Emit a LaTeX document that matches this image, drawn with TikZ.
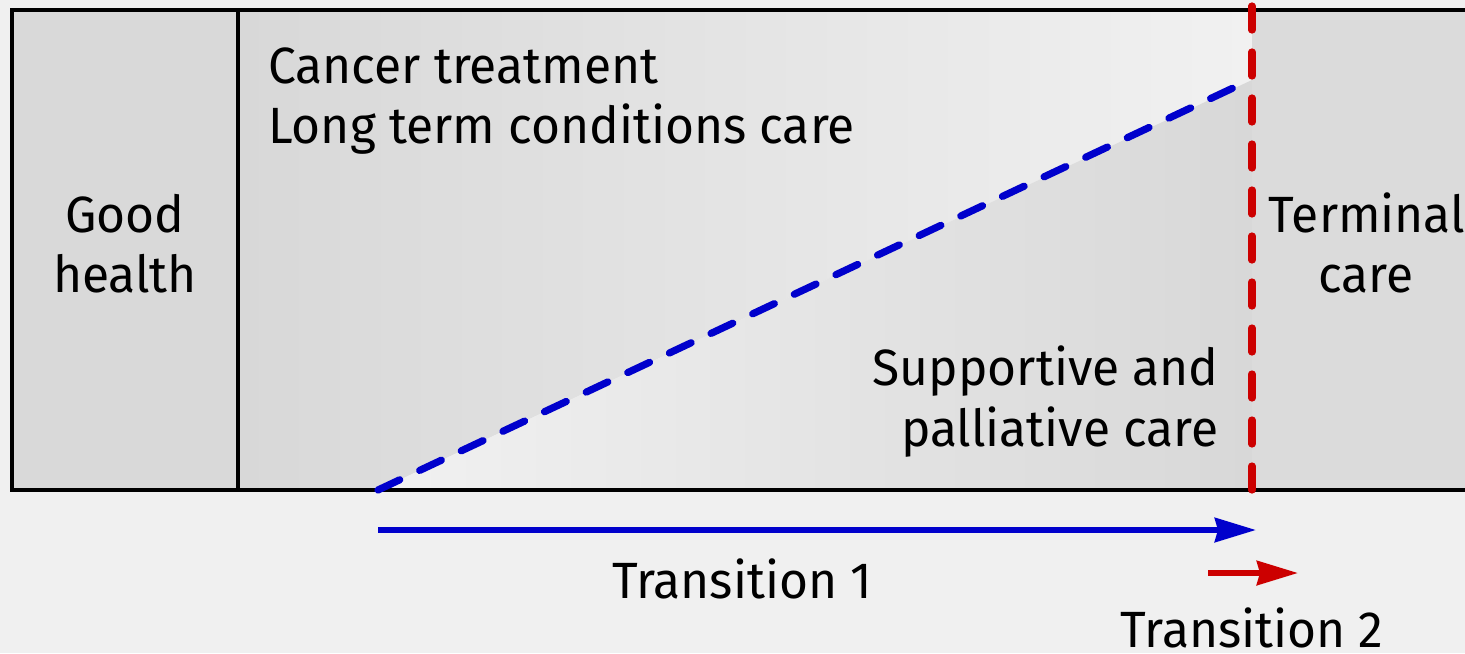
\documentclass[tikz,border=0pt]{standalone}
\usepackage{fontspec}
\setmainfont[FakeStretch=0.975]{Fira Sans}
\usetikzlibrary{arrows.meta}
\definecolor{bgc}{HTML}{F0F0F0}
\definecolor{ghc}{HTML}{D9D9D9}
\definecolor{tcc}{HTML}{DBDBDB}
\definecolor{darkc}{HTML}{D8D8D8}
\definecolor{lightc}{HTML}{F1F1F1}
\definecolor{myblue}{HTML}{0000CC}
\definecolor{myred}{HTML}{CC0000}
\tikzset{
  lbl/.style={inner sep=0pt, font=\fontsize{25.5}{30}\selectfont},
  border/.style={line width=2pt, black},
  dashline/.style={line width=3.6pt, line cap=round, dash pattern=on 12pt off 11pt},
  arrowline/.style={line width=3pt, -{Stealth[length=20.5pt,width=12pt,inset=1.5pt]}}
}
\begin{document}
\begin{tikzpicture}[x=0.5pt,y=-0.5pt]
\useasboundingbox (0,0) rectangle (1465,653);
\fill[bgc] (0,0) rectangle (1465,653);
% regions
\fill[ghc] (12,10) rectangle (238,490);
\shade[left color=darkc, right color=lightc] (238,10) -- (1252,10) -- (1252,80) -- (378,490) -- (238,490) -- cycle;
\shade[left color=lightc, right color=darkc] (378,490) -- (1252,80) -- (1252,490) -- cycle;
\fill[tcc] (1252,10) rectangle (1465,490);
% border
\draw[border] (1465,10) -- (12,10) -- (12,490) -- (1465,490);
\draw[border] (238,10) -- (238,490);
% coordinates
\coordinate (dstart) at (378,490);
\coordinate (dend) at (1250,80);
\coordinate (rtop) at (1252,6);
\coordinate (rbot) at (1252,490);
\coordinate (a1s) at (378,530);
\coordinate (a1e) at (1256,530);
\coordinate (a2s) at (1208,573);
\coordinate (a2e) at (1298,573);
% dashed lines
\draw[dashline, myblue] (dstart) -- (dend);
\draw[dashline, myred] (rtop) -- (rbot);
% arrows
\draw[arrowline, myblue] (a1s) -- (a1e);
\draw[arrowline, myred] (a2s) -- (a2e);
% labels
\node[lbl, anchor=base west] (ct) at (268,83) {Cancer treatment};
\node[lbl, anchor=base west] (ltc) at (268,143) {Long term conditions care};
\node[lbl, anchor=base] (gh1) at (125,232) {Good};
\node[lbl, anchor=base] (gh2) at (125,292) {health};
\node[lbl, anchor=base] (tc1) at (1367,232) {Terminal};
\node[lbl, anchor=base] (tc2) at (1366,292) {care};
\node[lbl, anchor=base east] (sp1) at (1219,385) {Supportive and};
\node[lbl, anchor=base east] (sp2) at (1219,446) {palliative care};
\node[lbl, anchor=base] (t1) at (742,598) {Transition 1};
\node[lbl, anchor=base] (t2) at (1252,647) {Transition 2};
\end{tikzpicture}
\end{document}
